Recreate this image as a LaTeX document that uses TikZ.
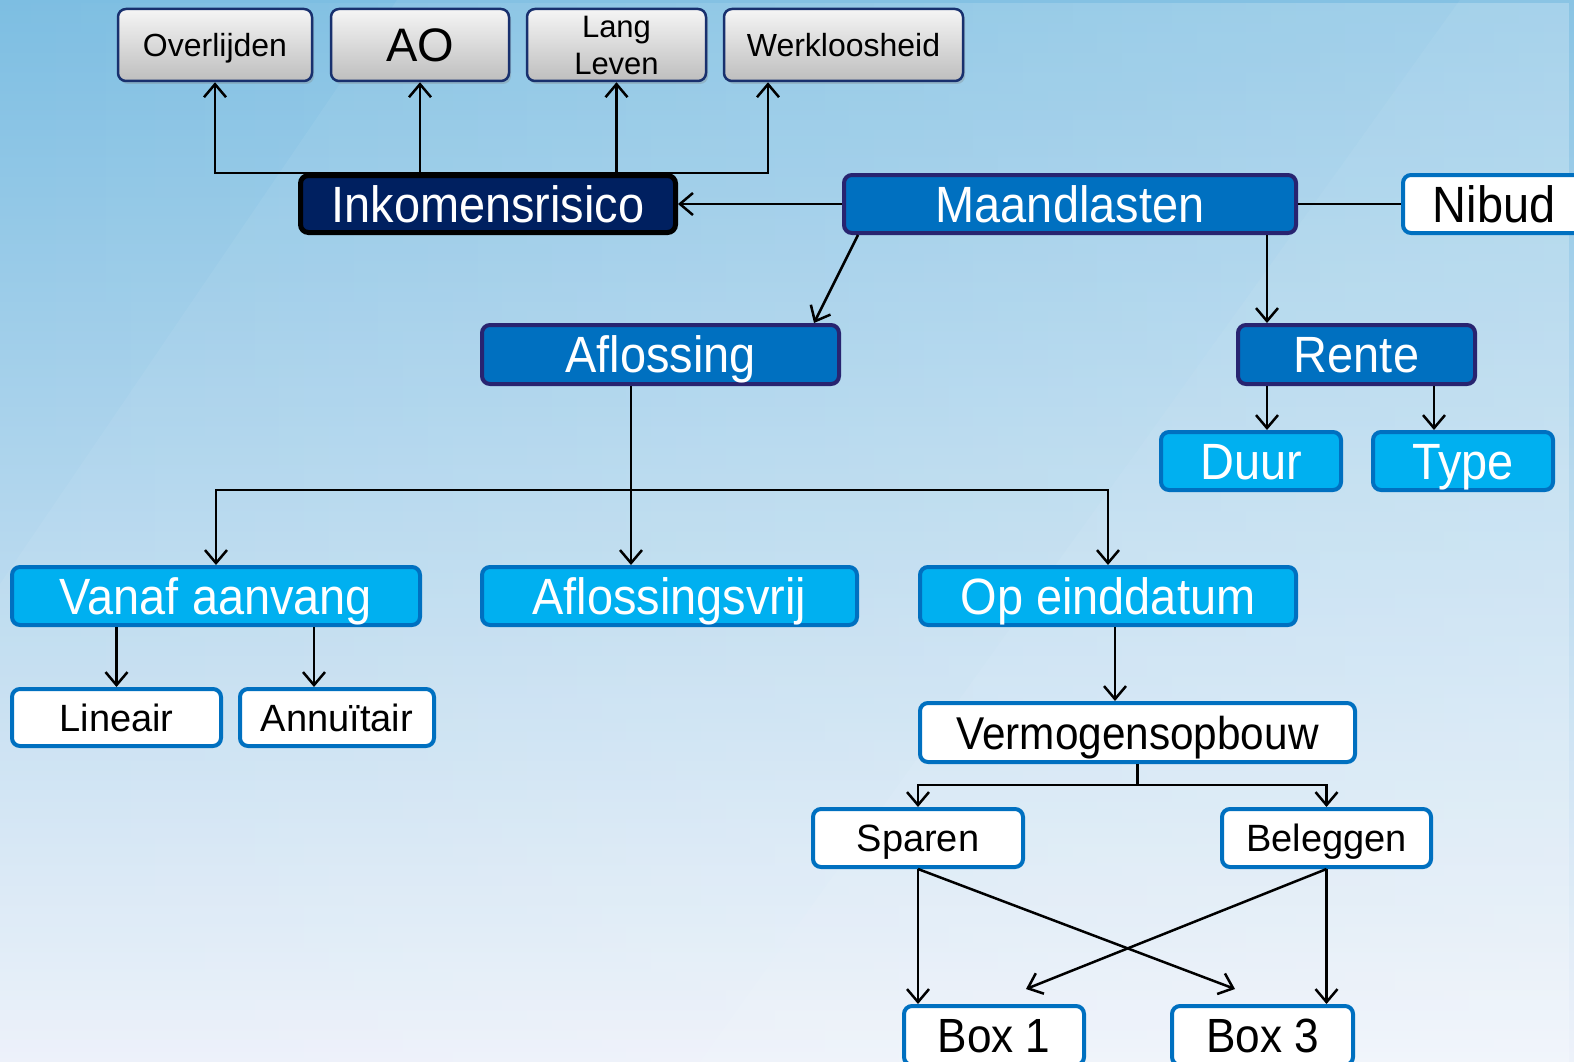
\documentclass[tikz,border=0pt]{standalone}
\usepackage{fontspec}
\setmainfont{Liberation Sans}
\newfontfamily\nf[FakeStretch=0.92]{Liberation Sans}
\usetikzlibrary{arrows.meta,shadows,fadings}
\definecolor{bgtop}{RGB}{125,190,226}
\definecolor{bgmid}{RGB}{198,223,240}
\definecolor{bgbot}{RGB}{236,241,250}
\definecolor{midblue}{RGB}{0,112,192}
\definecolor{lightblue}{RGB}{0,176,240}
\definecolor{navyborder}{RGB}{40,36,112}
\definecolor{inkfill}{RGB}{0,32,96}
\definecolor{greyborder}{RGB}{24,48,110}
\definecolor{greytop}{RGB}{245,245,245}
\definecolor{greybot}{RGB}{190,190,190}
\tikzfading[name=fadetoright, left color=transparent!100, right color=transparent!0]
\begin{document}
\begin{tikzpicture}[x=1pt,y=-1pt,
  base/.style={rounded corners=8pt, inner sep=0pt, align=center},
  greybox/.style={base, draw=greyborder, line width=2.5pt, top color=greytop, bottom color=greybot,
     drop shadow={shadow xshift=2pt, shadow yshift=-3pt, opacity=0.3},
     font=\fontsize{32}{37}\selectfont, text height=23pt, text depth=0pt},
  bigtext/.style={font=\nf\fontsize{51}{51}\selectfont, text height=36.5pt, text depth=0pt},
  medtext/.style={font=\fontsize{38}{38}\selectfont, text height=27pt, text depth=0pt},
  darkbox/.style={base, bigtext, fill=midblue, draw=navyborder, line width=4pt, text=white},
  inkbox/.style={base, bigtext, fill=inkfill, draw=black, line width=5pt, text=white},
  lightbox/.style={base, bigtext, fill=lightblue, draw=midblue, line width=4pt, text=white},
  whitebox/.style={base, fill=white, draw=midblue, line width=4pt, text=black},
  arr/.style={-{Straight Barb[length=13pt,width=22pt]}, line width=2.5pt},
  con/.style={line width=2.5pt}
]
\useasboundingbox (0,0) rectangle (1574,1062);
% background
\shade[top color=bgtop, middle color=bgmid, bottom color=bgbot] (0,0) rectangle (1574,1062);
\fill[white, opacity=0.25, path fading=fadetoright] (0,0) rectangle (1574,1062);
\fill[white, opacity=0.10] (1460,0) -- (1574,0) -- (1574,1062) -- (700,1062) -- cycle;
\fill[white, opacity=0.06] (397,0) -- (1460,0) -- (700,1062) -- (-325,1062) -- cycle;

% top grey boxes
\node[greybox, minimum width=194, minimum height=72] (ovl) at (215,45) {Overlijden};
\node[greybox, minimum width=178, minimum height=72, font=\fontsize{47}{47}\selectfont, text height=34pt] (ao) at (420,45) {AO};
\node[greybox, minimum width=179, minimum height=72, font=\fontsize{31}{37}\selectfont, text height={}, text depth={}] (ll) at (616.5,45) {Lang\\Leven};
\node[greybox, minimum width=239, minimum height=72] (wl) at (843.5,45) {Werkloosheid};

% main row
\node[inkbox, minimum width=375, minimum height=57] (ink) at (488,204) {Inkomensrisico};
\node[darkbox, minimum width=452, minimum height=58] (ml) at (1070,204) {Maandlasten};
\node[whitebox, bigtext, minimum width=182, minimum height=58] (nib) at (1494,204) {Nibud};

\node[darkbox, minimum width=357, minimum height=59] (afl) at (660.5,354.5) {Aflossing};
\node[darkbox, minimum width=237, minimum height=59] (ren) at (1356.5,354.5) {Rente};
\node[lightbox, minimum width=180, minimum height=58] (duur) at (1251,461) {Duur};
\node[lightbox, minimum width=180, minimum height=58] (type) at (1463,461) {Type};

\node[lightbox, minimum width=408, minimum height=58] (va) at (216,596) {Vanaf aanvang};
\node[lightbox, minimum width=375, minimum height=58] (avr) at (669.5,596) {Aflossingsvrij};
\node[lightbox, minimum width=376, minimum height=58] (oe) at (1108,596) {Op einddatum};

\node[whitebox, medtext, minimum width=209, minimum height=57] (lin) at (116.5,717.5) {Lineair};
\node[whitebox, medtext, minimum width=194, minimum height=57] (ann) at (337,717.5) {Annuïtair};

\node[whitebox, font=\nf\fontsize{46}{46}\selectfont, text height=33pt, text depth=0pt, minimum width=435, minimum height=59] (verm) at (1137.5,732.5) {Vermogensopbouw};
\node[whitebox, medtext, minimum width=210, minimum height=58] (sp) at (918,838) {Sparen};
\node[whitebox, medtext, minimum width=209, minimum height=58] (bel) at (1326.5,838) {Beleggen};

\node[whitebox, font=\nf\fontsize{48}{48}\selectfont, text height=34.5pt, text depth=0pt, minimum width=180, minimum height=59] (b1) at (994,1035.5) {Box 1};
\node[whitebox, font=\nf\fontsize{48}{48}\selectfont, text height=34.5pt, text depth=0pt, minimum width=181, minimum height=59] (b3) at (1262.5,1035.5) {Box 3};

% connectors: Inkomensrisico to risks
\draw[arr] (ink.north) -| (ovl.south);
\draw[arr] (ink.north) -| (ao.south);
\draw[arr] (ink.north) -| (ll.south);
\draw[arr] (ink.north) -| ([xshift=-75.5]wl.south);

% Maandlasten
\draw[arr] (ml.west) -- (ink.east);
\draw[con] (ml.east) -- (nib.west);
\draw[arr] ([xshift=16]ml.south west) -- ([xshift=-27]afl.north east);
\coordinate (mlr) at ([xshift=-31]ml.south east);
\draw[arr] (mlr) -- (mlr |- ren.north);

% Rente
\coordinate (rd) at ([xshift=31]ren.south west);
\draw[arr] (rd) -- (rd |- duur.north);
\coordinate (rt) at ([xshift=-43]ren.south east);
\draw[arr] (rt) -- (rt |- type.north);

% Aflossing
\coordinate (as) at ([xshift=151]afl.south west);
\coordinate (bar) at ([yshift=-104pt]as);
\draw[arr] (as) -- (as |- avr.north);
\draw[arr] (bar) -| (va.north);
\draw[arr] (bar) -| (oe.north);

% Vanaf aanvang
\draw[arr] (lin.north |- va.south) -- (lin.north);
\coordinate (an) at ([xshift=76]ann.north west);
\draw[arr] (an |- va.south) -- (an);

% Op einddatum
\coordinate (oes) at ([xshift=7]oe.south);
\draw[arr] (oes) -- (oes |- verm.north);

% Vermogensopbouw
\coordinate (vb) at ([yshift=-21pt]verm.south);
\draw[con] (verm.south) -- (vb);
\draw[arr] (vb) -| (sp.north);
\draw[arr] (vb) -| (bel.north);

% Sparen / Beleggen to boxes
\draw[arr] (sp.south) -- (sp.south |- b1.north);
\draw[arr] (sp.south) -- ([shift={(65pt,15pt)}]b3.north west);
\draw[arr] (bel.south) -- (bel.south |- b3.north);
\draw[arr] (bel.south) -- ([shift={(124pt,15pt)}]b1.north west);
\end{tikzpicture}
\end{document}
